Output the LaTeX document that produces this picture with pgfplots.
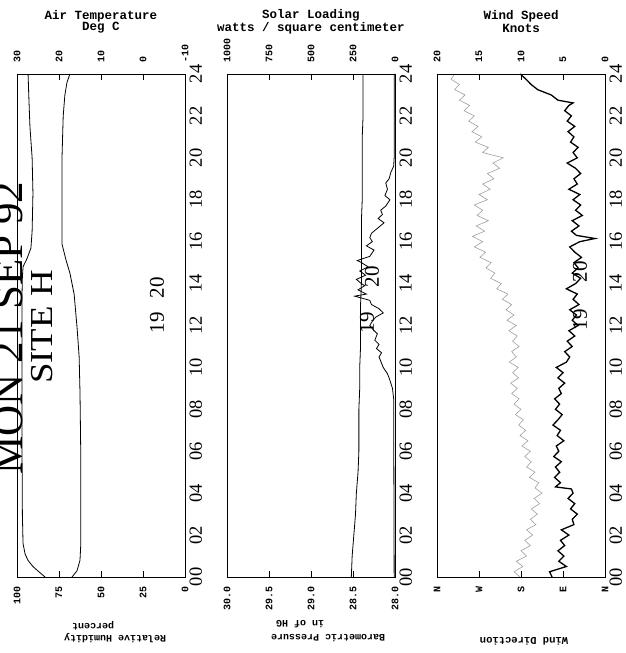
\documentclass[border=0pt]{standalone}
\usepackage{pgfplots}
\pgfplotsset{compat=1.18}
\usepackage{fontspec}
\setmainfont{Liberation Serif}
\setmonofont{Liberation Mono}
\newcommand{\tfont}{\ttfamily\bfseries\fontsize{12.5}{13}\selectfont}
\newcommand{\bfont}{\ttfamily\bfseries\fontsize{10}{11}\selectfont}
\newcommand{\kfont}{\ttfamily\bfseries\fontsize{10}{10}\selectfont}
\pgfplotsset{
  base/.style={scale only axis, width=168pt, height=503pt, ymin=0, ymax=24,
    anchor=south west, axis line style={line width=0.7pt},
    tick style={black, line width=0.7pt}, major tick length=6pt, tick align=inside,
    ticklabel style={font=\kfont}},
  botax/.style={base, x dir=reverse, xtick pos=left, xticklabel pos=left,
    xticklabel style={rotate=90, anchor=east}, xticklabel shift=6pt,
    ytick={0,2,...,24}, yticklabels={00,02,04,06,08,10,12,14,16,18,20,22,24},
    ytick pos=right, yticklabel pos=right,
    yticklabel style={rotate=90, anchor=north, font=\fontsize{18.5}{19}\selectfont},
    yticklabel shift=1pt, y tick style={draw=none}},
  topax/.style={base, x dir=reverse, axis x line*=top, axis y line=none,
    xticklabel style={rotate=90, anchor=west}, xticklabel shift=8pt},
  thinl/.style={black, line width=0.8pt},
}
\begin{document}
\begin{tikzpicture}[x=1pt,y=1pt]
\useasboundingbox (0,0) rectangle (626,653);

% ---------------- Panel 1 ----------------
\begin{axis}[botax, at={(17pt,76pt)}, xmin=0, xmax=100,
  xtick={0,25,50,75,100}, xticklabels={0,25,50,75,100}]
% hour  relative humidity (%)
\addplot[thinl] table[x index=1, y index=0, row sep=\\] {
0 83.3\\ 0.25 87\\ 0.5 90.5\\ 0.8 93.5\\ 1.1 95.2\\ 1.6 96.4\\ 3 96.8\\ 6 97\\
9 97\\ 12 97\\ 13.5 97\\ 14.3 96.8\\ 14.8 96.4\\ 15.2 94\\ 15.7 91.7\\ 16.5 91\\
18.3 90.5\\ 20 91\\ 21.5 92.3\\ 23 93\\ 24 93.4\\
};
\end{axis}
\begin{axis}[topax, at={(17pt,76pt)}, xmin=-10, xmax=30,
  xtick={-10,0,10,20,30}, xticklabels={-10,0,10,20,30}]
% hour  air temperature (deg C)
\addplot[thinl] table[x index=1, y index=0, row sep=\\] {
0 16.9\\ 0.3 15.7\\ 0.8 15.0\\ 1.6 14.8\\ 5.6 14.8\\ 8.8 15.0\\ 10.5 15.2\\
11.9 15.7\\ 13.5 16.4\\ 14.5 17.4\\ 15.1 18.3\\ 15.9 19.3\\ 19.9 19.3\\ 22 19.0\\
23 18.6\\ 23.6 18.1\\ 24 17.4\\
};
\end{axis}

% ---------------- Panel 2 ----------------
\begin{axis}[botax, at={(227pt,76pt)}, xmin=28, xmax=30,
  xtick={28,28.5,29,29.5,30}, xticklabels={28.0,28.5,29.0,29.5,30.0}]
% hour  barometric pressure (in Hg)
\addplot[thinl] table[x index=1, y index=0, row sep=\\] {
0 28.52\\ 1 28.51\\ 2 28.49\\ 3 28.47\\ 4 28.46\\ 5 28.44\\ 6 28.43\\ 7 28.43\\
8 28.43\\ 9 28.42\\ 10 28.42\\ 11 28.41\\ 12 28.41\\ 13 28.41\\ 14 28.40\\
15 28.40\\ 16 28.40\\ 17 28.40\\ 18 28.39\\ 19 28.39\\ 20 28.39\\ 21 28.39\\
22 28.38\\ 23 28.38\\ 24 28.38\\
};
\end{axis}
\begin{axis}[topax, at={(227pt,76pt)}, xmin=0, xmax=1000,
  xtick={0,250,500,750,1000}, xticklabels={0,250,500,750,1000}]
% hour  solar loading
\addplot[thinl] table[x index=1, y index=0, row sep=\\] {
0 5\\ 8.5 8\\ 9.0 15\\ 9.5 35\\ 9.7 45\\ 10.0 70\\ 10.3 85\\ 10.5 95\\ 10.7 80\\
10.9 110\\ 11.1 95\\ 11.3 120\\ 11.6 105\\ 11.8 130\\ 12.0 150\\ 12.2 135\\
12.4 115\\ 12.6 70\\ 12.8 95\\ 13.0 140\\ 13.2 150\\ 13.4 240\\ 13.5 170\\
13.7 220\\ 13.9 180\\ 14.0 200\\ 14.2 230\\ 14.4 175\\ 14.6 210\\ 14.8 160\\
15.0 200\\ 15.1 225\\ 15.3 150\\ 15.6 125\\ 15.8 170\\ 16.0 135\\ 16.2 150\\
16.4 140\\ 16.6 110\\ 16.9 65\\ 17.1 100\\ 17.3 75\\ 17.5 85\\ 17.7 55\\
18.0 30\\ 18.2 60\\ 18.5 45\\ 18.8 55\\ 19.0 35\\ 19.3 25\\ 19.6 8\\ 20 5\\ 24 5\\
};
\end{axis}

% ---------------- Panel 3 ----------------
\begin{axis}[botax, at={(437pt,76pt)}, xmin=0, xmax=360,
  xtick={0,90,180,270,360}, xticklabels={N,E,S,W,N}]
% hour  wind direction (deg)
\addplot[gray!75, line width=0.6pt] table[x index=1, y index=0, row sep=\\] {
0.00 182\\ 0.25 195\\ 0.50 176\\ 0.75 190\\ 1.00 168\\ 1.25 180\\ 1.50 160\\
1.75 172\\ 2.00 155\\ 2.25 168\\ 2.50 148\\ 2.75 160\\ 3.00 145\\ 3.25 158\\
3.50 140\\ 3.75 152\\ 4.00 135\\ 4.25 150\\ 4.50 142\\ 4.75 162\\ 5.00 150\\
5.25 168\\ 5.50 158\\ 5.75 172\\ 6.00 160\\ 6.25 178\\ 6.50 165\\ 6.75 182\\
7.00 170\\ 7.25 185\\ 7.50 175\\ 7.75 192\\ 8.00 180\\ 8.25 195\\ 8.50 184\\
8.75 200\\ 9.00 188\\ 9.25 202\\ 9.50 185\\ 9.75 198\\ 10.00 186\\ 10.25 205\\
10.50 190\\ 10.75 200\\ 11.00 184\\ 11.25 198\\ 11.50 188\\ 11.75 206\\
12.00 190\\ 12.25 210\\ 12.50 195\\ 12.75 212\\ 13.00 200\\ 13.25 220\\
13.50 208\\ 13.75 232\\ 14.00 222\\ 14.25 245\\ 14.50 236\\ 14.75 255\\
15.00 244\\ 15.25 268\\ 15.50 256\\ 15.75 280\\ 16.00 262\\ 16.25 284\\
16.50 258\\ 16.75 276\\ 17.00 250\\ 17.25 274\\ 17.50 262\\ 17.75 280\\
18.00 252\\ 18.25 270\\ 18.50 246\\ 18.75 262\\ 19.00 238\\ 19.25 252\\
19.50 226\\ 19.75 240\\ 20.00 218\\ 20.25 262\\ 20.50 250\\ 20.75 278\\
21.00 264\\ 21.25 285\\ 21.50 272\\ 21.75 292\\ 22.00 280\\ 22.25 302\\
22.50 290\\ 22.75 312\\ 23.00 300\\ 23.25 322\\ 23.50 312\\ 23.75 330\\ 24.00 322\\
};
\end{axis}
\begin{axis}[topax, at={(437pt,76pt)}, xmin=0, xmax=20,
  xtick={0,5,10,15,20}, xticklabels={0,5,10,15,20}]
% hour  wind speed (knots)
\addplot[black, line width=1.3pt] table[x index=1, y index=0, row sep=\\] {
0.00 6.3\\ 0.25 6.6\\ 0.50 4.6\\ 0.75 5.5\\ 1.00 4.9\\ 1.25 5.6\\ 1.50 4.8\\
1.75 5.3\\ 2.00 4.3\\ 2.25 5.2\\ 2.50 3.7\\ 2.75 3.9\\ 3.00 3.3\\ 3.25 4.1\\
3.50 3.6\\ 3.75 4.4\\ 4.00 3.8\\ 4.20 4.0\\ 4.30 5.9\\ 4.50 5.3\\ 4.75 6.0\\
5.00 5.4\\ 5.25 5.9\\ 5.50 5.2\\ 5.75 6.1\\ 6.00 5.5\\ 6.25 5.8\\ 6.50 4.9\\
6.75 5.7\\ 7.00 5.3\\ 7.25 6.2\\ 7.50 5.6\\ 7.75 5.1\\ 8.00 5.9\\ 8.25 5.4\\
8.50 6.0\\ 8.75 5.2\\ 9.00 5.5\\ 9.25 4.8\\ 9.50 5.6\\ 9.75 5.0\\ 10.00 5.8\\
10.25 4.6\\ 10.50 4.2\\ 10.75 4.8\\ 11.00 3.9\\ 11.25 4.5\\ 11.50 3.6\\
11.75 4.3\\ 12.00 3.2\\ 12.25 3.9\\ 12.50 3.4\\ 12.75 4.2\\ 13.00 3.1\\
13.25 3.8\\ 13.50 3.3\\ 13.75 4.6\\ 14.00 3.5\\ 14.25 2.9\\ 14.50 3.9\\
14.75 3.2\\ 15.00 3.7\\ 15.25 2.8\\ 15.50 3.6\\ 15.75 4.2\\ 16.00 3.0\\
16.15 1.2\\ 16.30 3.4\\ 16.50 4.0\\ 16.75 3.1\\ 17.00 3.9\\ 17.25 2.7\\
17.50 3.5\\ 17.75 2.9\\ 18.00 3.8\\ 18.25 3.0\\ 18.50 4.3\\ 18.75 3.3\\
19.00 3.7\\ 19.25 2.9\\ 19.50 3.5\\ 19.75 4.5\\ 20.00 3.3\\ 20.25 3.8\\
20.50 3.2\\ 20.75 4.1\\ 21.00 3.7\\ 21.25 4.4\\ 21.50 3.6\\ 21.75 4.5\\
22.00 4.0\\ 22.25 4.8\\ 22.50 4.3\\ 22.62 3.8\\ 22.75 5.6\\ 23.00 6.4\\
23.25 8.0\\ 23.50 8.8\\ 23.75 9.4\\ 24.00 10.1\\
};
\end{axis}

% ---------------- Titles ----------------
\node[font=\tfont] at (101,637) {Air Temperature};
\node[font=\tfont] at (101,625) {Deg C};
\node[font=\tfont] at (311,638) {Solar Loading};
\node[font=\tfont] at (311,625) {watts / square centimeter};
\node[font=\tfont] at (521,637) {Wind Speed};
\node[font=\tfont] at (521,625) {Knots};

\node[font=\bfont, rotate=180] at (93,27) {percent};
\node[font=\bfont, rotate=180] at (115,15) {Relative Humidity};
\node[font=\bfont, rotate=180] at (300,29) {in of HG};
\node[font=\bfont, rotate=180] at (328,15) {Barometric Pressure};
\node[font=\ttfamily\bfseries\fontsize{10.5}{11}\selectfont, rotate=180] at (524,12) {Wind Direction};

% ---------------- Big annotations ----------------
\node[rotate=90, anchor=base, inner sep=0pt, font=\fontsize{43}{43}\selectfont] at (22,325) {MON 21 SEP 92};
\node[rotate=90, anchor=base, inner sep=0pt, font=\fontsize{32}{32}\selectfont] at (52,326) {\scalebox{1.15}[1]{SITE H}};

\foreach \xx/\yy/\tt in {157/330/19, 157/365/20, 367/330/19, 372/376/20, 580/333/19, 580/381/20}
  \node[rotate=90, font=\fontsize{21}{21}\selectfont] at (\xx,\yy) {\tt};
\end{tikzpicture}
\end{document}
